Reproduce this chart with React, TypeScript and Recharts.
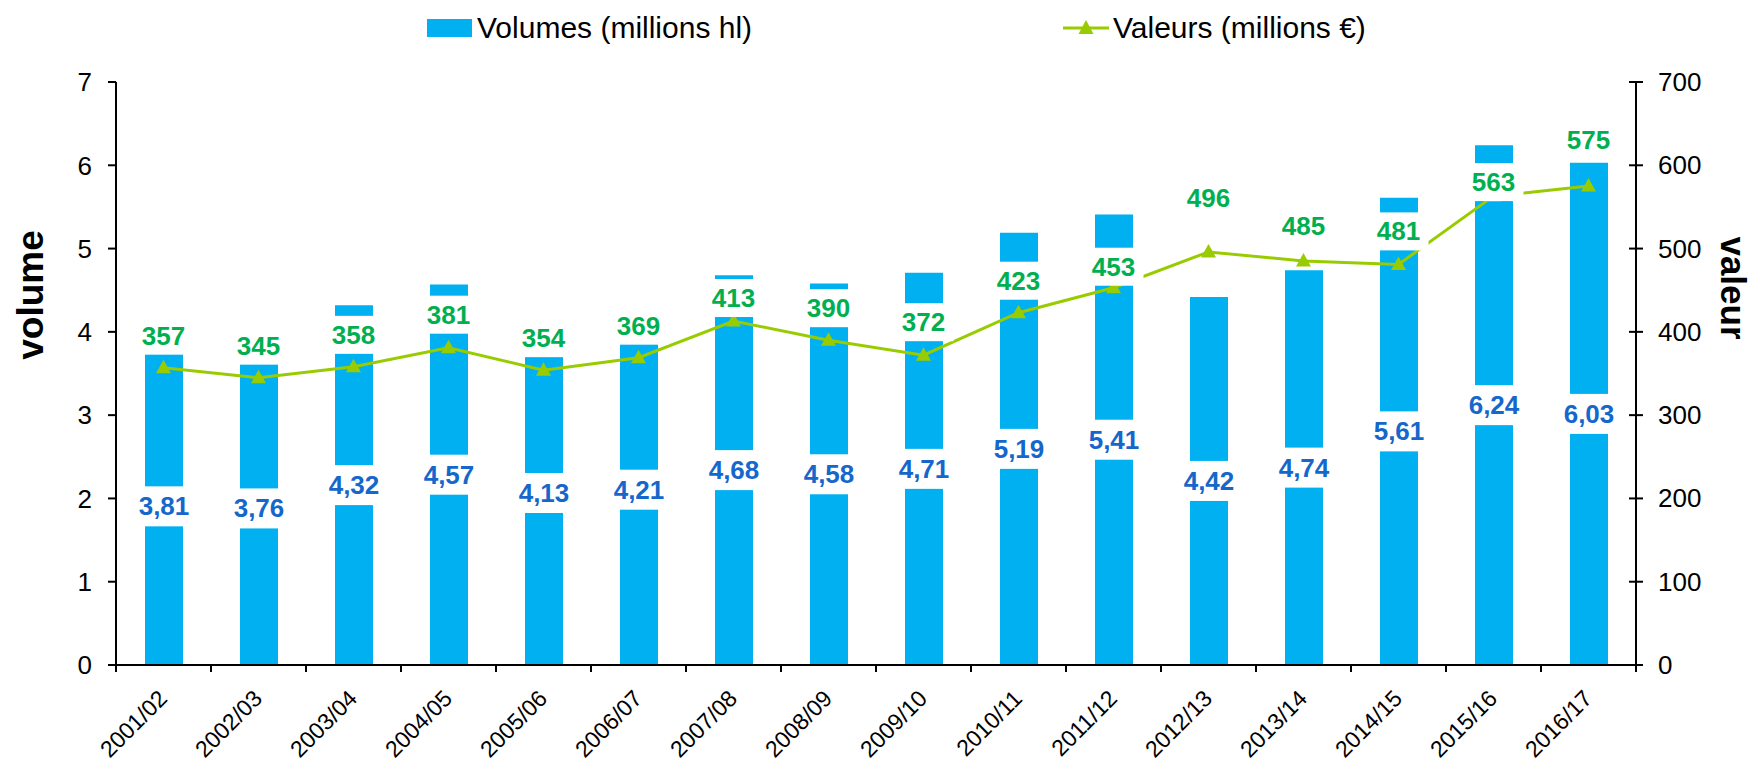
import React from "react";
import { ComposedChart, Bar, Line, XAxis, YAxis, LabelList } from "recharts";

const FONT = '"Liberation Sans", Arial, sans-serif';

const categories = [
  "2001/02", "2002/03", "2003/04", "2004/05", "2005/06", "2006/07", "2007/08", "2008/09",
  "2009/10", "2010/11", "2011/12", "2012/13", "2013/14", "2014/15", "2015/16", "2016/17",
];
const volumes = [3.81, 3.76, 4.32, 4.57, 4.13, 4.21, 4.68, 4.58, 4.71, 5.19, 5.41, 4.42, 4.74, 5.61, 6.24, 6.03];
const valeurs = [357, 345, 358, 381, 354, 369, 413, 390, 372, 423, 453, 496, 485, 481, 563, 575];
const volumeTicks = [0, 1, 2, 3, 4, 5, 6, 7];
const valeurTicks = [0, 100, 200, 300, 400, 500, 600, 700];

// the value labels were nudged by hand in the original, px above each point
const valeurLabelLift = [32, 32, 32, 33, 32, 32, 23, 32, 33, 32, 21, 54, 35, 33, 14, 46];

const BAR_BLUE = "#00B0F0";
const LABEL_BLUE = "#1567CC";
const LINE_GREEN = "#99CC00";
const LABEL_GREEN = "#00B050";

const data = categories.map((c, i) => ({ campagne: c, volume: volumes[i], valeur: valeurs[i] }));

function VolumeLabel(props: any) {
  const { x, y, width, height, value } = props;
  const cx = x + width / 2;
  const cy = y + height / 2;
  return (
    <g>
      <rect x={cx - 34} y={cy - 20} width={68} height={40} fill="#fff" />
      <text x={cx} y={cy} textAnchor="middle" dominantBaseline="central" fill={LABEL_BLUE}
        fontSize={26} fontWeight="bold" fontFamily={FONT}>
        {Number(value).toFixed(2).replace(".", ",")}
      </text>
    </g>
  );
}

function ValeurLabel(props: any) {
  const { x, y, value } = props;
  const i = valeurs.indexOf(Number(value));
  const ly = y - (valeurLabelLift[i] ?? 32);
  return (
    <g>
      <rect x={x - 30} y={ly - 19} width={60} height={38} fill="#fff" />
      <text x={x} y={ly} textAnchor="middle" dominantBaseline="central" fill={LABEL_GREEN}
        fontSize={26} fontWeight="bold" fontFamily={FONT}>
        {value}
      </text>
    </g>
  );
}

function Triangle(props: any) {
  const { cx, cy } = props;
  if (cx == null || cy == null) return null;
  return <polygon points={`${cx},${cy - 8} ${cx - 7.5},${cy + 5.5} ${cx + 7.5},${cy + 5.5}`} fill={LINE_GREEN} />;
}

function CampagneTick(props: any) {
  const { x, y, payload, index, width, visibleTicksCount } = props;
  const half = payload?.offset || (width && visibleTicksCount ? width / visibleTicksCount / 2 : 47.5);
  const ax = x + 5;
  const ay = y + 35;
  return (
    <g>
      <line x1={x - half} x2={x - half} y1={y} y2={y + 7} stroke="#000" strokeWidth={2} />
      {index === categories.length - 1 && (
        <line x1={x + half} x2={x + half} y1={y} y2={y + 7} stroke="#000" strokeWidth={2} />
      )}
      <text x={ax} y={ay} transform={`rotate(-45, ${ax}, ${ay})`} textAnchor="end" fill="#000"
        fontSize={23} fontFamily={FONT}>
        {payload.value}
      </text>
    </g>
  );
}

function ValeurTick(props: any) {
  const { x, y, payload } = props;
  return (
    <g>
      <line x1={x - 7} x2={x + 7} y1={y} y2={y} stroke="#000" strokeWidth={2} />
      <text x={x + 22} y={y} textAnchor="start" dominantBaseline="central" fill="#000"
        fontSize={26} fontFamily={FONT}>
        {payload.value}
      </text>
    </g>
  );
}

function AxisTitle({ viewBox, value, dx, cy, angle, size }: any) {
  const x = viewBox.x + dx;
  const y = cy;
  return (
    <text x={x} y={y} transform={`rotate(${angle}, ${x}, ${y})`} textAnchor="middle" dominantBaseline="central"
      fontSize={size} fontWeight="bold" fontFamily={FONT} fill="#000">
      {value}
    </text>
  );
}

function LegendRow() {
  const textStyle: React.CSSProperties = {
    position: "absolute", top: 10, fontSize: 30, fontFamily: FONT, color: "#000",
    whiteSpace: "nowrap", lineHeight: "36px",
  };
  return (
    <div style={{ position: "absolute", left: 0, top: 0, width: 1754, height: 60 }}>
      <div style={{ position: "absolute", left: 427, top: 19, width: 45, height: 18, background: BAR_BLUE }} />
      <div style={{ ...textStyle, left: 477 }}>Volumes (millions hl)</div>
      <svg style={{ position: "absolute", left: 1063, top: 16 }} width={46} height={24}>
        <line x1={0} x2={46} y1={12} y2={12} stroke={LINE_GREEN} strokeWidth={3} />
        <polygon points="23,4 15.5,18 30.5,18" fill={LINE_GREEN} />
      </svg>
      <div style={{ ...textStyle, left: 1113 }}>Valeurs (millions €)</div>
    </div>
  );
}

export default function App() {
  return (
    <div style={{ position: "absolute", left: 0, top: 0, width: 1754, height: 762, background: "#fff" }}>
      <LegendRow />
      <ComposedChart width={1754} height={762} data={data} margin={{ top: 82, right: 0, bottom: 0, left: 0 }}>
        <XAxis dataKey="campagne" interval={0} height={97} tickSize={0} tickMargin={0} tickLine={false}
          axisLine={{ stroke: "#000", strokeWidth: 2 }} tick={<CampagneTick />} />
        <YAxis yAxisId="left" domain={[0, 7]} ticks={volumeTicks} width={116} tickSize={8} tickMargin={16}
          axisLine={{ stroke: "#000", strokeWidth: 2 }} tickLine={{ stroke: "#000", strokeWidth: 2 }}
          tick={{ fontSize: 26, fill: "#000", fontFamily: FONT }}
          label={{ value: "volume", content: (p: any) => <AxisTitle {...p} value="volume" dx={30} cy={295} angle={-90} size={37} /> }} />
        <YAxis yAxisId="right" orientation="right" domain={[0, 700]} ticks={valeurTicks} width={118}
          tickSize={0} tickMargin={0} tickLine={false} axisLine={{ stroke: "#000", strokeWidth: 2 }}
          tick={<ValeurTick />}
          label={{ value: "valeur", content: (p: any) => <AxisTitle {...p} value="valeur" dx={97} cy={288} angle={90} size={35} /> }} />
        <Bar yAxisId="left" dataKey="volume" fill={BAR_BLUE} barSize={38} isAnimationActive={false}>
          <LabelList dataKey="volume" content={<VolumeLabel />} />
        </Bar>
        <Line yAxisId="right" dataKey="valeur" type="linear" stroke={LINE_GREEN} strokeWidth={3}
          dot={<Triangle />} activeDot={false} isAnimationActive={false}>
          <LabelList dataKey="valeur" content={<ValeurLabel />} />
        </Line>
      </ComposedChart>
    </div>
  );
}
